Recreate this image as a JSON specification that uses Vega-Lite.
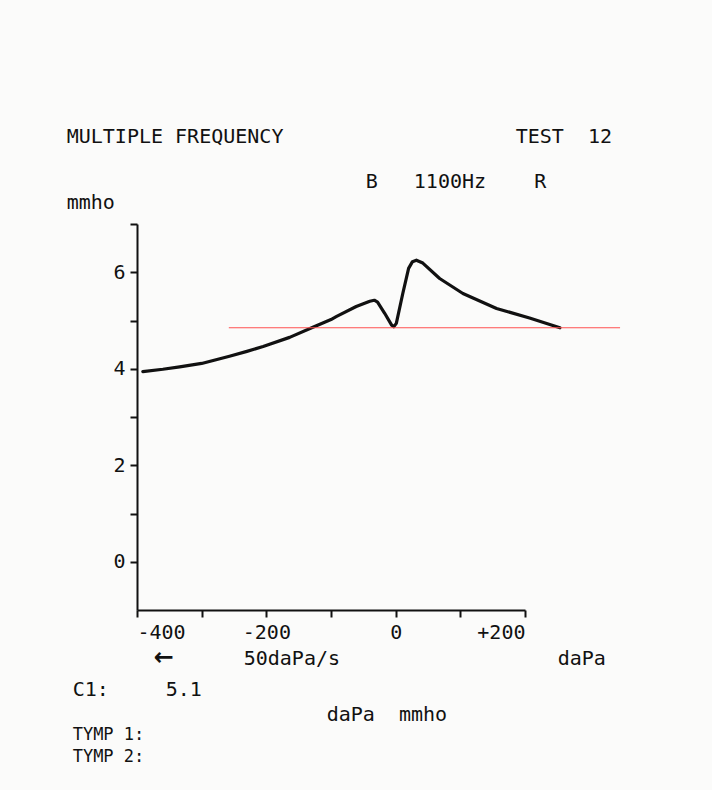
{
  "$schema": "https://vega.github.io/schema/vega-lite/v6.json",
  "autosize": "none",
  "width": 388,
  "height": 386,
  "padding": {"left": 137, "top": 224, "right": 187, "bottom": 180},
  "background": "#fbfbfa",
  "config": {
    "view": {"stroke": null},
    "font": "DejaVu Sans Mono",
    "axis": {"domainColor": "#111", "domainWidth": 2, "tickColor": "#111", "tickWidth": 2, "grid": false, "labelFont": "DejaVu Sans Mono", "labelFontSize": 20, "labelColor": "#111", "title": null}
  },
  "datasets": {
    "curve": [
      {"p": -391, "g": 3.94}, {"p": -360, "g": 3.99}, {"p": -334, "g": 4.04}, {"p": -300, "g": 4.11},
      {"p": -257, "g": 4.26}, {"p": -230, "g": 4.36}, {"p": -205, "g": 4.46}, {"p": -164, "g": 4.65},
      {"p": -128, "g": 4.86}, {"p": -100, "g": 5.02}, {"p": -92, "g": 5.08}, {"p": -61, "g": 5.29},
      {"p": -40, "g": 5.4}, {"p": -33, "g": 5.42}, {"p": -28, "g": 5.38}, {"p": -17, "g": 5.15}, {"p": -6, "g": 4.9},
      {"p": -3, "g": 4.87}, {"p": 1, "g": 4.94}, {"p": 11, "g": 5.56}, {"p": 20, "g": 6.08}, {"p": 26, "g": 6.22}, {"p": 32, "g": 6.25},
      {"p": 42, "g": 6.19}, {"p": 68, "g": 5.87}, {"p": 104, "g": 5.56}, {"p": 156, "g": 5.25},
      {"p": 207, "g": 5.05}, {"p": 254, "g": 4.85}
    ],
    "ref": [{"p": -258, "p2": 347, "g": 4.85}],
    "labels": [
      {"t": "MULTIPLE FREQUENCY", "p": -508.7, "g": 8.8, "s": 20},
      {"t": "TEST\u00a0\u00a012", "p": 185.6, "g": 8.8, "s": 20},
      {"t": "B\u00a0\u00a0\u00a01100Hz\u00a0\u00a0\u00a0\u00a0R", "p": -46.4, "g": 7.87, "s": 20},
      {"t": "mmho", "p": -508.7, "g": 7.43, "s": 20},
      {"t": "50daPa/s", "p": -235, "g": -2.02, "s": 20},
      {"t": "daPa", "p": 250.5, "g": -2.02, "s": 20},
      {"t": "C1:", "p": -499.5, "g": -2.66, "s": 20},
      {"t": "5.1", "p": -355.7, "g": -2.66, "s": 20},
      {"t": "daPa\u00a0\u00a0mmho", "p": -106.7, "g": -3.18, "s": 20},
      {"t": "TYMP 1:", "p": -499.5, "g": -3.59, "s": 17},
      {"t": "TYMP 2:", "p": -499.5, "g": -4.05, "s": 17}
    ],
    "arrow": [{"t": "←", "p": -374, "g": -1.99}]
  },
  "layer": [
    {
      "data": {"name": "curve"},
      "mark": {"type": "line", "color": "#111", "strokeWidth": 3.2, "strokeJoin": "round", "strokeCap": "round"},
      "encoding": {
        "x": {"field": "p", "type": "quantitative", "scale": {"domain": [-400, 200], "nice": false, "zero": false},
          "axis": {"values": [-400, -300, -200, -100, 0, 100, 200], "tickSize": 7, "labelPadding": 5,
            "labelExpr": "datum.value % 200 == 0 ? (datum.value > 0 ? '+' + datum.value : '' + datum.value) : ''"}},
        "y": {"field": "g", "type": "quantitative", "scale": {"domain": [-1, 7], "nice": false, "zero": false},
          "axis": {"values": [0, 1, 2, 3, 4, 5, 6, 7], "tickSize": 7, "labelPadding": 5,
            "labelExpr": "datum.value % 2 == 0 && datum.value < 7 ? '' + datum.value : ''"}}
      }
    },
    {
      "data": {"name": "ref"},
      "mark": {"type": "rule", "color": "#ff5050", "strokeWidth": 1.2},
      "encoding": {
        "x": {"field": "p", "type": "quantitative"},
        "x2": {"field": "p2"},
        "y": {"field": "g", "type": "quantitative"}
      }
    },
    {
      "data": {"name": "labels"},
      "mark": {"type": "text", "align": "left", "baseline": "middle", "font": "DejaVu Sans Mono", "color": "#111"},
      "encoding": {
        "x": {"field": "p", "type": "quantitative"},
        "y": {"field": "g", "type": "quantitative"},
        "text": {"field": "t"},
        "size": {"field": "s", "type": "quantitative", "scale": null}
      }
    },
    {
      "data": {"name": "arrow"},
      "mark": {"type": "text", "align": "left", "baseline": "middle", "font": "DejaVu Sans", "fontSize": 24, "fontWeight": "bold", "color": "#111"},
      "encoding": {
        "x": {"field": "p", "type": "quantitative"},
        "y": {"field": "g", "type": "quantitative"},
        "text": {"field": "t"}
      }
    }
  ]
}
